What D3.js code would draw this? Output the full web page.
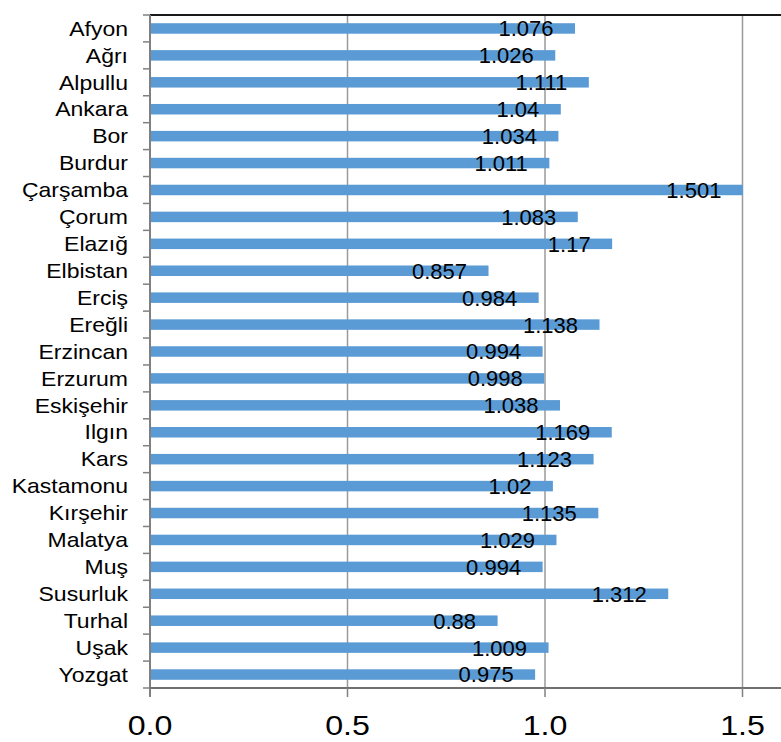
<!DOCTYPE html>
<html>
<head>
<meta charset="utf-8">
<script src="https://cdn.jsdelivr.net/npm/d3@7"></script>
<style>
  html, body { margin: 0; padding: 0; background: #fff; }
  svg { display: block; font-family: Arial, "Liberation Sans", sans-serif; }
</style>
</head>
<body>
<svg id="chart" width="781" height="742"></svg>
<script>
// Stations and their ratio values
const stations = ["Afyon", "Ağrı", "Alpullu", "Ankara", "Bor", "Burdur", "Çarşamba", "Çorum",
  "Elazığ", "Elbistan", "Erciş", "Ereğli", "Erzincan", "Erzurum", "Eskişehir", "Ilgın",
  "Kars", "Kastamonu", "Kırşehir", "Malatya", "Muş", "Susurluk", "Turhal", "Uşak", "Yozgat"];
const values = [1.076, 1.026, 1.111, 1.04, 1.034, 1.011, 1.501, 1.083,
  1.17, 0.857, 0.984, 1.138, 0.994, 0.998, 1.038, 1.169,
  1.123, 1.02, 1.135, 1.029, 0.994, 1.312, 0.88, 1.009, 0.975];
const valueLabels = ["1.076", "1.026", "1.111", "1.04", "1.034", "1.011", "1.501", "1.083",
  "1.17", "0.857", "0.984", "1.138", "0.994", "0.998", "1.038", "1.169",
  "1.123", "1.02", "1.135", "1.029", "0.994", "1.312", "0.88", "1.009", "0.975"];
const xTicks = [0, 0.5, 1.0, 1.5];

const svg = d3.select("#chart");
const plotLeft = 150, plotRight = 782, plotTop = 15, plotBottom = 688;

const x = d3.scaleLinear().domain([0, 1.6]).range([plotLeft, plotRight]);
const y = d3.scaleBand().domain(stations).range([plotTop, plotBottom]).paddingInner(0.61).paddingOuter(0.305);
const band = d3.scaleBand().domain(stations).range([plotTop, plotBottom]);

// vertical gridlines
svg.append("g").selectAll("line").data(xTicks.filter(d => d > 0)).join("line")
  .attr("x1", d => x(d)).attr("x2", d => x(d))
  .attr("y1", plotTop).attr("y2", plotBottom)
  .attr("stroke", "#9a9a9a").attr("stroke-width", 1.5);

// bars
svg.append("g").selectAll("rect").data(stations).join("rect")
  .attr("x", x(0))
  .attr("y", (d) => y(d))
  .attr("width", (d, i) => x(values[i]) - x(0))
  .attr("height", y.bandwidth())
  .attr("fill", "#5b9bd5");

// top border
svg.append("line")
  .attr("x1", plotLeft).attr("x2", 781).attr("y1", plotTop).attr("y2", plotTop)
  .attr("stroke", "#1a1a1a").attr("stroke-width", 2);

// left axis with category separators
const yAxis = svg.append("g");
yAxis.append("line")
  .attr("x1", plotLeft).attr("x2", plotLeft).attr("y1", plotTop).attr("y2", plotBottom + 9)
  .attr("stroke", "#808080").attr("stroke-width", 2);
const sep = stations.map(s => band(s)).concat([plotBottom]);
yAxis.selectAll("line.tick").data(sep).join("line").attr("class", "tick")
  .attr("x1", plotLeft - 7).attr("x2", plotLeft).attr("y1", d => d).attr("y2", d => d)
  .attr("stroke", "#808080").attr("stroke-width", 1.5);
yAxis.selectAll("text").data(stations).join("text")
  .attr("transform", d => `translate(128,${band(d) + band.bandwidth() / 2}) scale(1.15,1)`)
  .attr("text-anchor", "end").attr("dy", "0.36em")
  .attr("font-size", 20).attr("fill", "#000")
  .text(d => d);

// bottom axis
const xAxis = svg.append("g");
xAxis.append("line")
  .attr("x1", plotLeft).attr("x2", 781).attr("y1", plotBottom).attr("y2", plotBottom)
  .attr("stroke", "#707070").attr("stroke-width", 2);
xAxis.selectAll("line.tick").data(xTicks).join("line").attr("class", "tick")
  .attr("x1", d => x(d)).attr("x2", d => x(d)).attr("y1", plotBottom).attr("y2", plotBottom + 9)
  .attr("stroke", "#808080").attr("stroke-width", 1.5);
xAxis.selectAll("text").data(xTicks).join("text")
  .attr("transform", d => `translate(${x(d)},735) scale(1.13,1)`)
  .attr("text-anchor", "middle")
  .attr("font-size", 28.5).attr("fill", "#000")
  .text(d => d3.format(".1f")(d));

// value labels inside bar ends
svg.append("g").selectAll("text").data(stations).join("text")
  .attr("x", (d, i) => x(values[i]) - 21.5)
  .attr("y", d => y(d) + y.bandwidth() / 2)
  .attr("dy", "0.36em")
  .attr("text-anchor", "end")
  .attr("font-size", 22).attr("fill", "#000")
  .text((d, i) => valueLabels[i]);
</script>
</body>
</html>
